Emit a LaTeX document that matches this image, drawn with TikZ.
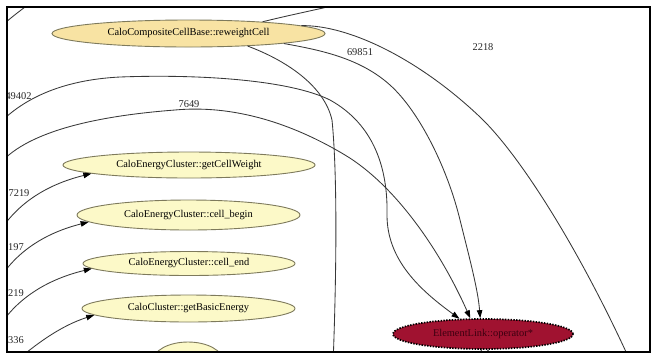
\documentclass[tikz,border=0pt]{standalone}
\usepackage{fontspec}
\setmainfont{Liberation Serif}
\usetikzlibrary{shapes.geometric,arrows.meta}
\definecolor{rwfill}{HTML}{F8E3A3}
\definecolor{ylfill}{HTML}{FCF9C8}
\definecolor{ndline}{HTML}{7E7A5C}
\definecolor{elfill}{HTML}{A01230}
\definecolor{eltext}{HTML}{3C0010}
\definecolor{edgecol}{HTML}{383838}
\tikzset{
  fn/.style={ellipse, draw=ndline, line width=0.9pt, inner sep=0pt},
  rwnode/.style={fn, fill=rwfill},
  ylnode/.style={fn, fill=ylfill},
  elnode/.style={ellipse, fill=elfill, draw=black, line width=1.7pt,
    dash pattern=on 1.4pt off 1.4pt, text=eltext, inner sep=0pt,
    minimum width=180pt, minimum height=30pt},
  edge/.style={draw=edgecol, line width=0.85pt},
  arr/.style={edge, -{Triangle[length=8pt,width=5.5pt,color=black]}},
  cnt/.style={text=black!85, inner sep=0pt}
}
\begin{document}
\begin{tikzpicture}[x=1pt,y=-1pt,font=\fontsize{10.4}{12}\selectfont]
\useasboundingbox (0,0) rectangle (653,360);
\fill[white] (0,0) rectangle (653,360);
\begin{scope}
\clip (7,7) rectangle (650,352);
% nodes
\node[rwnode, minimum width=273pt, minimum height=27pt] (rw) at (188.5,33.5) {CaloCompositeCellBase::reweightCell};
\node[ylnode, minimum width=252pt, minimum height=26pt] (cw) at (189,165) {CaloEnergyCluster::getCellWeight};
\node[ylnode, minimum width=223pt, minimum height=30pt] (cb) at (188.5,215) {CaloEnergyCluster::cell\_begin};
\node[ylnode, minimum width=212pt, minimum height=24pt] (ce) at (189,263.5) {CaloEnergyCluster::cell\_end};
\node[ylnode, minimum width=213pt, minimum height=27pt] (gb) at (188.5,308.5) {CaloCluster::getBasicEnergy};
\node[ylnode, minimum width=70pt, minimum height=38pt] (pt) at (188,361) {};
\node[elnode] (el) at (483,334) {ElementLink::operator*};
% free ends
\coordinate (tl1) at (-3,30);
\coordinate (tl2) at (32,2);
\coordinate (up) at (345,3);
\coordinate (dn) at (333,365);
\coordinate (out) at (632,365);
\coordinate (s49) at (-5,128);
\coordinate (s76) at (-5,170);
\coordinate (s72) at (-3,236);
\coordinate (s19) at (-3,283);
\coordinate (s21) at (-3,330);
\coordinate (s33) at (15,362);
\coordinate (b1) at (473,365);
\coordinate (b2) at (504,365);
% edges
\draw[edge] (tl1) .. controls (8,20) and (18,12) .. (tl2);
\draw[edge] (rw.9) .. controls (290,15) and (315,10) .. (up);
\draw[edge] (rw.4) .. controls (350,25) and (420,60) .. (480,117)
  .. controls (520,155) and (580,250) .. (out);
\draw[edge] (rw.-12) .. controls (285,60) and (324,85) .. (332,120)
  .. controls (337,170) and (337,260) .. (dn);
\draw[arr] (rw.-6) .. controls (320,50) and (360,58) .. (390,85)
  .. controls (420,112) and (448,170) .. (460,220)
  .. controls (470,260) and (478,290) .. (el.100);
\draw[arr] (s49) .. controls (20,100) and (60,80) .. (120,77)
  .. controls (200,74) and (290,80) .. (330,100)
  .. controls (375,125) and (388,170) .. (387,215)
  .. controls (387,260) and (420,290) .. (el.147);
\draw[arr] (s76) .. controls (15,140) and (70,118) .. (175,110)
  .. controls (240,104) and (300,128) .. (345,155)
  .. controls (395,185) and (440,250) .. (el.129);
\draw[arr] (s72) .. controls (15,205) and (45,185) .. (cw.185);
\draw[arr] (s19) .. controls (15,252) and (45,233) .. (cb.184);
\draw[arr] (s21) .. controls (15,300) and (45,280) .. (ce.183);
\draw[arr] (s33) .. controls (35,345) and (60,326) .. (gb.184);
\draw[edge] (el.-95) -- (b1);
\draw[edge] (el.-75) -- (b2);
% labels
\node[cnt] (l49402) at (18.5,96) {49402};
\node[cnt] (l7649) at (189,104) {7649};
\node[cnt] (l69851) at (360,52) {69851};
\node[cnt] (l2218) at (483,47) {2218};
\node[cnt] (l7219) at (19,193) {7219};
\node[cnt] (l197) at (16,247) {197};
\node[cnt] (l219) at (16,293) {219};
\node[cnt] (l336) at (16,340) {336};
\end{scope}
\draw[line width=2.6pt] (7,7) rectangle (650,352);
\end{tikzpicture}
\end{document}
